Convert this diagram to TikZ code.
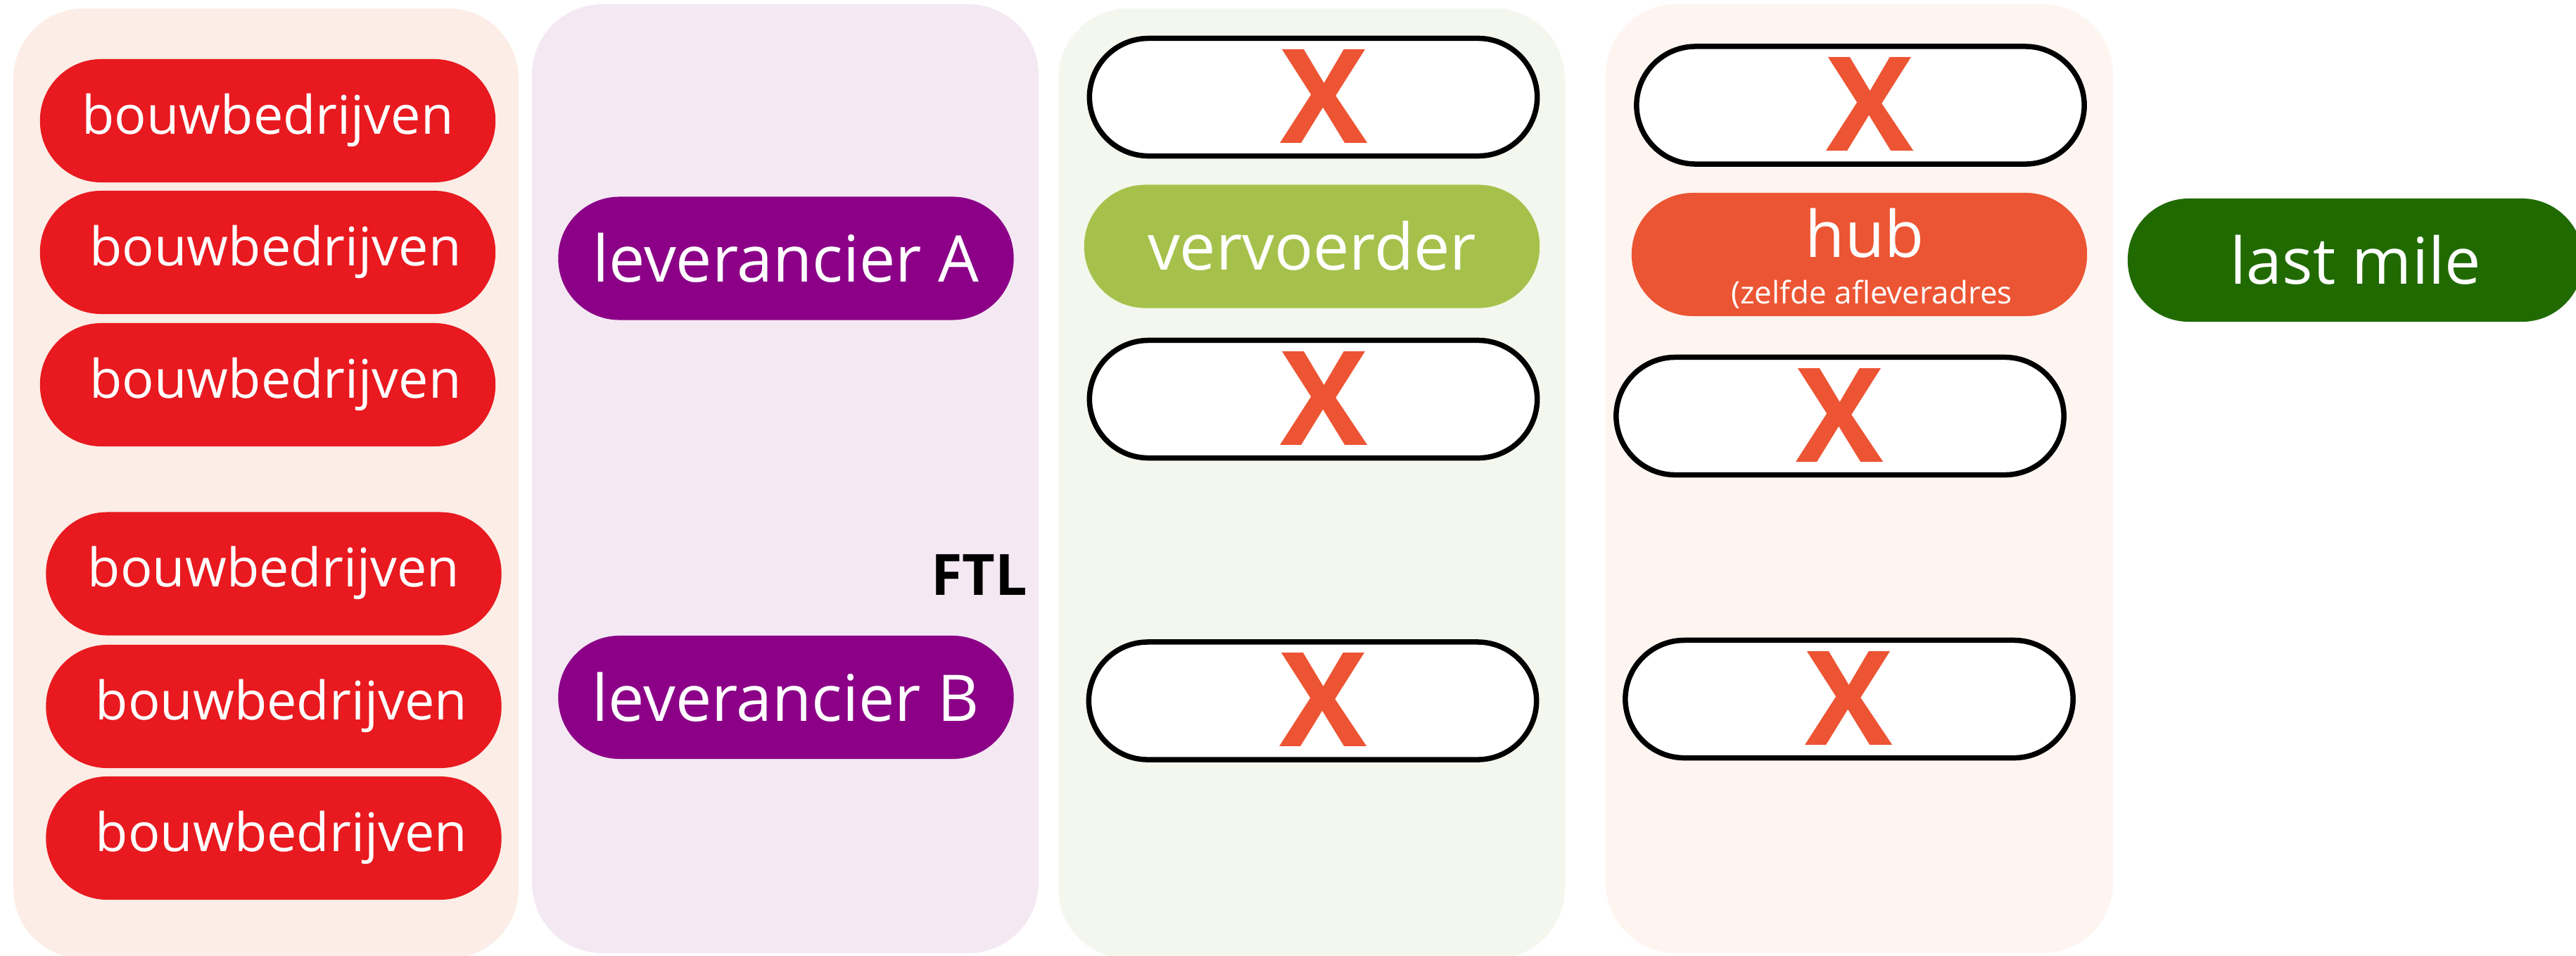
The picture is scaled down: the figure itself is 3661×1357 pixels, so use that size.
\documentclass[tikz,border=0pt]{standalone}
\usepackage{fontspec}
\setmainfont{Open Sans}
\definecolor{cPa}{HTML}{FCEDE6}
\definecolor{cPb}{HTML}{F4E9F3}
\definecolor{cPc}{HTML}{F4F7ED}
\definecolor{cPd}{HTML}{FEF5F1}
\definecolor{cRed}{HTML}{E8191F}
\definecolor{cPurple}{HTML}{8B0087}
\definecolor{cLime}{HTML}{A6C14B}
\definecolor{cHub}{HTML}{EC5533}
\definecolor{cDark}{HTML}{216A02}
\definecolor{cX}{HTML}{EC5433}
\begin{document}
\begin{tikzpicture}[x=0.01cm,y=-0.01cm,
  panel/.style={rounded corners=1cm},
  pill/.style={rounded corners=0.87cm, minimum width=6.47cm, minimum height=1.75cm,
    inner sep=0pt, text=white, text depth=0pt},
  redpill/.style={pill, fill=cRed, font=\fontsize{21.5}{24}\selectfont, text height=0.37cm},
  bigpill/.style={pill, font=\fontsize{26}{30}\selectfont, text height=0.67cm},
  xbox/.style={draw=black, line width=0.075cm, fill=white, rounded corners=0.84cm,
    minimum width=6.36cm, minimum height=1.67cm, inner sep=0pt, text=cX,
    font=\bfseries\fontsize{53}{60}\selectfont, text height=1.30cm, text depth=0pt},
  lbl/.style={anchor=base, inner sep=0pt, text=white}
]
\path[use as bounding box, clip] (0,0) rectangle (3661,1357);
\fill[white] (0,0) rectangle (3661,1357);
% panels
\fill[cPa, panel] (19,12) rectangle (737,1362);
\fill[cPb, panel] (756,6) rectangle (1476,1354);
\fill[cPc, panel] (1504,12) rectangle (2224,1362);
\fill[cPd, panel] (2282,6) rectangle (3003,1354);
% column 1
\node[redpill] (b1) at (380.5,171.5) {bouwbedrijven};
\node[redpill] (b2) at (380.5,358.5) {\hspace*{0.22cm}bouwbedrijven};
\node[redpill] (b3) at (380.5,546.5) {\hspace*{0.22cm}bouwbedrijven};
\node[redpill] (b4) at (389,815) {bouwbedrijven};
\node[redpill] (b5) at (389,1003.5) {\hspace*{0.22cm}bouwbedrijven};
\node[redpill] (b6) at (389,1190.5) {\hspace*{0.22cm}bouwbedrijven};
% column 2
\node[bigpill, fill=cPurple] (la) at (1117,367) {leverancier A};
\node[bigpill, fill=cPurple] (lb) at (1117,990.5) {leverancier B};
\node[anchor=base, inner sep=0pt, font=\bfseries\fontsize{23}{27}\selectfont] (ftl) at (1392,845) {FTL};
% column 3
\node[xbox] (x1) at (1866.5,138) {\hspace*{0.3cm}X};
\node[bigpill, fill=cLime] (vv) at (1864.5,350) {vervoerder};
\node[xbox] (x2) at (1866.5,567) {\hspace*{0.3cm}X};
\node[xbox] (x3) at (1865.5,995.5) {\hspace*{0.3cm}X};
% column 4
\node[xbox] (x4) at (2644,149.5) {\hspace*{0.28cm}X};
\node[pill, fill=cHub] (hub) at (2642.5,361.5) {};
\node[lbl, font=\fontsize{26}{30}\selectfont] (hubt) at (2650,365) {hub};
\node[lbl, font=\fontsize{12.5}{15}\selectfont] (hubs) at (2660,431) {(zelfde afleveradres};
\node[xbox] (x5) at (2615,591) {X};
\node[xbox] (x6) at (2628,993) {X};
% last mile
\node[bigpill, fill=cDark] (lm) at (3347.5,369.5) {last mile};
\end{tikzpicture}
\end{document}
